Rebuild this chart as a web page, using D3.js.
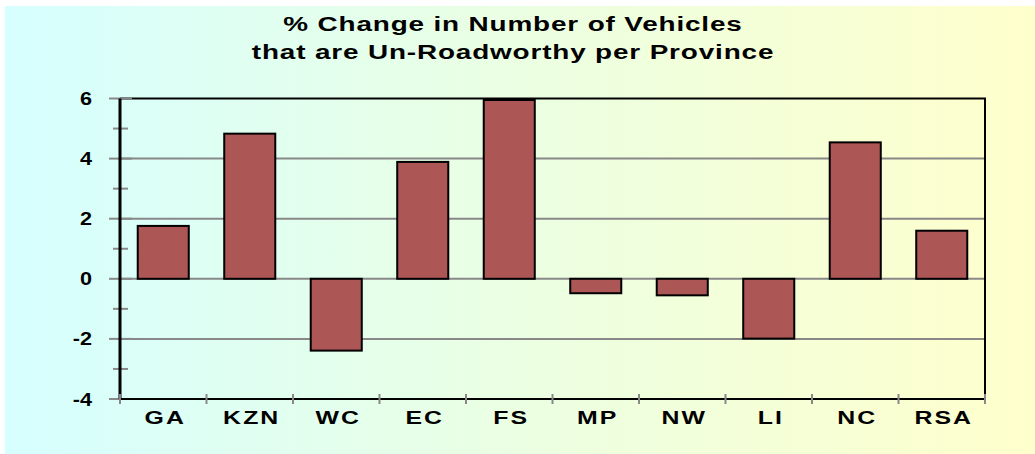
<!DOCTYPE html>
<html>
<head>
<meta charset="utf-8">
<script src="https://cdn.jsdelivr.net/npm/d3@7"></script>
<style>
  body { margin: 0; background: #fff; }
  text { font-family: Arial, "Liberation Sans", sans-serif; font-weight: bold; fill: #000; }
</style>
</head>
<body>
<div id="chart"></div>
<script>

var provinces = ['GA', 'KZN', 'WC', 'EC', 'FS', 'MP', 'NW', 'LI', 'NC', 'RSA'];
var changes = [1.76, 4.83, -2.39, 3.89, 5.95, -0.48, -0.55, -1.99, 4.54, 1.6];
var yTickValues = [-4, -2, 0, 2, 4, 6];
var titleLines = ['% Change in Number of Vehicles', 'that are Un-Roadworthy per Province'];

var width = 1035;
var height = 454;
var margin = {top: 98.5, right: 50, bottom: 55, left: 120};

var svg = d3.select('#chart')
    .append('svg')
        .attr('width', width)
        .attr('height', height);

// background gradient, cyan -> yellow
var grad = svg.append('defs').append('linearGradient')
    .attr('id', 'bg')
    .attr('x1', '0%').attr('x2', '100%')
    .attr('y1', '0%').attr('y2', '0%');
grad.append('stop').attr('offset', '0%').attr('stop-color', '#d6ffff');
grad.append('stop').attr('offset', '50%').attr('stop-color', '#ebffe2');
grad.append('stop').attr('offset', '100%').attr('stop-color', '#ffffcc');

svg.append('rect')
    .attr('x', 5).attr('y', 6)
    .attr('width', width - 5).attr('height', height - 6)
    .attr('fill', 'url(#bg)');

var x = d3.scaleBand()
    .domain(provinces)
    .range([margin.left, width - margin.right])
    .paddingInner(0.41)
    .paddingOuter(0.205);

var xOuter = d3.scaleBand()
    .domain(provinces)
    .range([margin.left, width - margin.right]);

var y = d3.scaleLinear()
    .domain([-4, 6])
    .range([height - margin.bottom, margin.top]);

// the original chart was stretched sideways, so text is widened too
function wideText(sel, tx, ty, sx) {
    sel.attr('x', 0).attr('y', 0)
        .attr('transform', function(d, i) {
            return 'translate(' + tx(d, i) + ',' + ty(d, i) + ') scale(' + sx + ',1)';
        });
}

// gridlines
svg.append('g')
    .selectAll('line')
    .data(yTickValues.filter(function(d) { return d > -4 && d < 6; }))
    .enter().append('line')
        .attr('x1', margin.left)
        .attr('x2', width - margin.right)
        .attr('y1', function(d) { return y(d); })
        .attr('y2', function(d) { return y(d); })
        .attr('stroke', '#888')
        .attr('stroke-width', 2);

// top and right border
svg.append('path')
    .attr('d', 'M' + margin.left + ',' + y(6) + 'H' + (width - margin.right) + 'V' + y(-4))
    .attr('fill', 'none')
    .attr('stroke', '#000')
    .attr('stroke-width', 2);

// bars
svg.append('g')
    .selectAll('rect')
    .data(changes)
    .enter().append('rect')
        .attr('x', function(d, i) { return x(provinces[i]); })
        .attr('width', x.bandwidth())
        .attr('y', function(d) { return y(Math.max(0, d)); })
        .attr('height', function(d) { return Math.abs(y(d) - y(0)); })
        .attr('fill', '#ad5656')
        .attr('stroke', '#000')
        .attr('stroke-width', 2);

// y axis
var yMinor = d3.range(-3, 6, 2);
var yAxis = svg.append('g')
    .attr('transform', 'translate(' + margin.left + ',0)');
yAxis.selectAll('.major')
    .data(yTickValues)
    .enter().append('line')
        .attr('x1', -11).attr('x2', 12)
        .attr('y1', function(d) { return y(d); })
        .attr('y2', function(d) { return y(d); })
        .attr('stroke', '#888')
        .attr('stroke-width', 2);
yAxis.selectAll('.minor')
    .data(yMinor)
    .enter().append('line')
        .attr('x1', -7).attr('x2', 8)
        .attr('y1', function(d) { return y(d); })
        .attr('y2', function(d) { return y(d); })
        .attr('stroke', '#888')
        .attr('stroke-width', 2);
yAxis.append('line')
    .attr('y1', y(6)).attr('y2', y(-4))
    .attr('stroke', '#000')
    .attr('stroke-width', 3);
yAxis.selectAll('text')
    .data(yTickValues)
    .enter().append('text')
        .attr('text-anchor', 'end')
        .style('font-size', '18px')
        .text(function(d) { return d; })
        .call(wideText, function() { return -28; },
              function(d) { return y(d) + 6.5; }, 1.2);

// x axis
var xAxis = svg.append('g')
    .attr('transform', 'translate(0,' + y(-4) + ')');
xAxis.append('line')
    .attr('x1', margin.left).attr('x2', width - margin.right)
    .attr('stroke', '#000')
    .attr('stroke-width', 2);
xAxis.selectAll('.tick')
    .data(provinces.concat(['end']))
    .enter().append('line')
        .attr('x1', function(d, i) { return margin.left + i * xOuter.step(); })
        .attr('x2', function(d, i) { return margin.left + i * xOuter.step(); })
        .attr('y1', -5).attr('y2', 5)
        .attr('stroke', '#888')
        .attr('stroke-width', 2);
xAxis.selectAll('text')
    .data(provinces)
    .enter().append('text')
        .attr('text-anchor', 'middle')
        .style('font-size', '18px')
        .style('letter-spacing', '1.5px')
        .text(function(d) { return d; })
        .call(wideText, function(d) { return xOuter(d) + xOuter.bandwidth() / 2 + 2; },
              function() { return 24.5; }, 1.38);

// title
svg.append('g')
    .selectAll('text')
    .data(titleLines)
    .enter().append('text')
        .attr('text-anchor', 'middle')
        .style('font-size', '19.5px')
        .style('letter-spacing', '0.6px')
        .text(function(d) { return d; })
        .call(wideText, function() { return 513; },
              function(d, i) { return 31 + i * 28; }, 1.43);

</script>
</body>
</html>
